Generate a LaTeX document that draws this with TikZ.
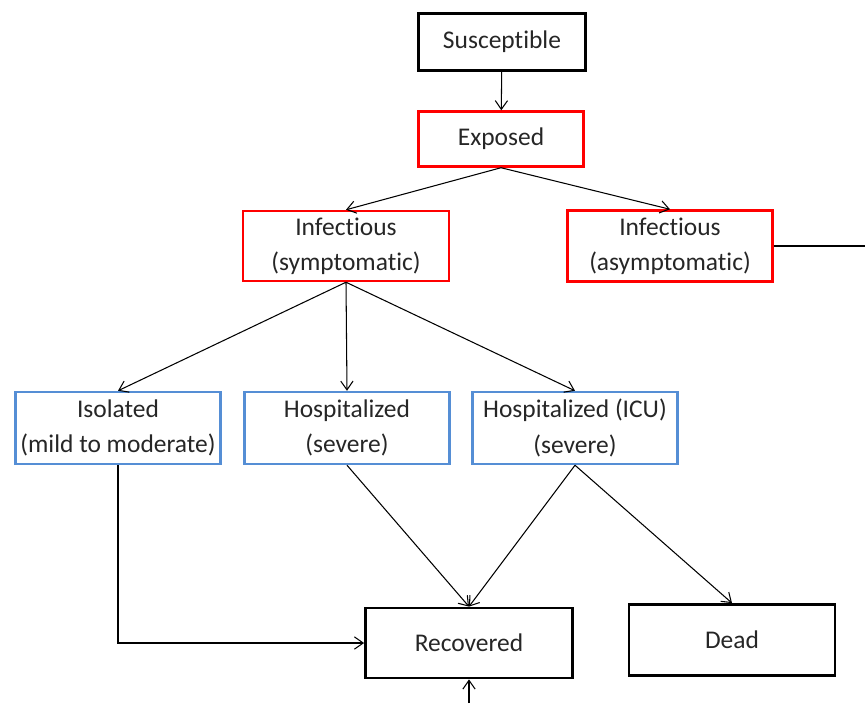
\documentclass[tikz,border=0pt]{standalone}
\usepackage{fontspec}
\setmainfont{Carlito}[Ligatures=NoCommon]
\usetikzlibrary{arrows.meta, positioning}

\definecolor{boxred}{RGB}{255,0,0}
\definecolor{boxblue}{RGB}{85,142,213}

\begin{document}
\begin{tikzpicture}[x=0.02cm, y=-0.02cm,
		state/.style={draw, align=center, inner sep=2pt, font=\fontsize{14.5}{20}\selectfont, text=black!85},
		blk/.style={state, draw=black, line width=1.6pt},
		red/.style={state, draw=boxred, line width=1.4pt},
		blu/.style={state, draw=boxblue, line width=1.4pt},
		flow/.style={line width=0.6pt, -{Straight Barb[length=5pt, width=7pt]}}]
				\useasboundingbox (0,0) rectangle (865,703);
				% compartments
				\node[blk, minimum width=3.34cm, minimum height=1.14cm] (sus) at (502,42) {Susceptible};
				\node[red, minimum width=3.3cm, minimum height=1.1cm] (exp) at (501,139) {Exposed};
				\node[red, minimum width=4.12cm, minimum height=1.4cm] (sym) at (346,246) {Infectious\\(symptomatic)};
				\node[red, minimum width=4.1cm, minimum height=1.42cm] (asy) at (670,246) {Infectious\\(asymptomatic)};
				\node[blu, minimum width=4.1cm, minimum height=1.44cm] (iso) at (118,428) {Isolated\\(mild to moderate)};
				\node[blu, minimum width=4.1cm, minimum height=1.44cm] (hos) at (347,428) {Hospitalized\\(severe)};
				\node[blu, minimum width=4.1cm, minimum height=1.44cm] (icu) at (575,428) {Hospitalized (ICU)\\(severe)};
				\node[blk, minimum width=4.14cm, minimum height=1.4cm] (rec) at (469,643) {Recovered};
				\node[blk, minimum width=4.12cm, minimum height=1.42cm] (dead) at (732,640) {Dead};
				% loose ends at the picture edge
				\coordinate (rgt) at (865,246);
				\coordinate (bot) at (469,703);
				% transitions
				\draw[flow] (sus) -- (exp);
				\draw[flow] (exp.south) -- (sym.north);
				\draw[flow] (exp.south) -- (asy.north);
				\draw[flow] (sym.south) -- (iso.north);
				\draw[flow] (sym.south) -- (hos.north);
				\draw[flow] (sym.south) -- (icu.north);
				\draw[flow] (iso.south) |- (rec.west);
				\draw[flow] (hos.south) -- (rec.north);
				\draw[flow] (icu.south) -- (rec.north);
				\draw[flow] (icu.south) -- (dead.north);
				\draw[line width=0.6pt] (asy.east) -- (asy.east -| rgt);
				\draw[flow] (bot) -- (rec.south);
			\end{tikzpicture}
\end{document}
